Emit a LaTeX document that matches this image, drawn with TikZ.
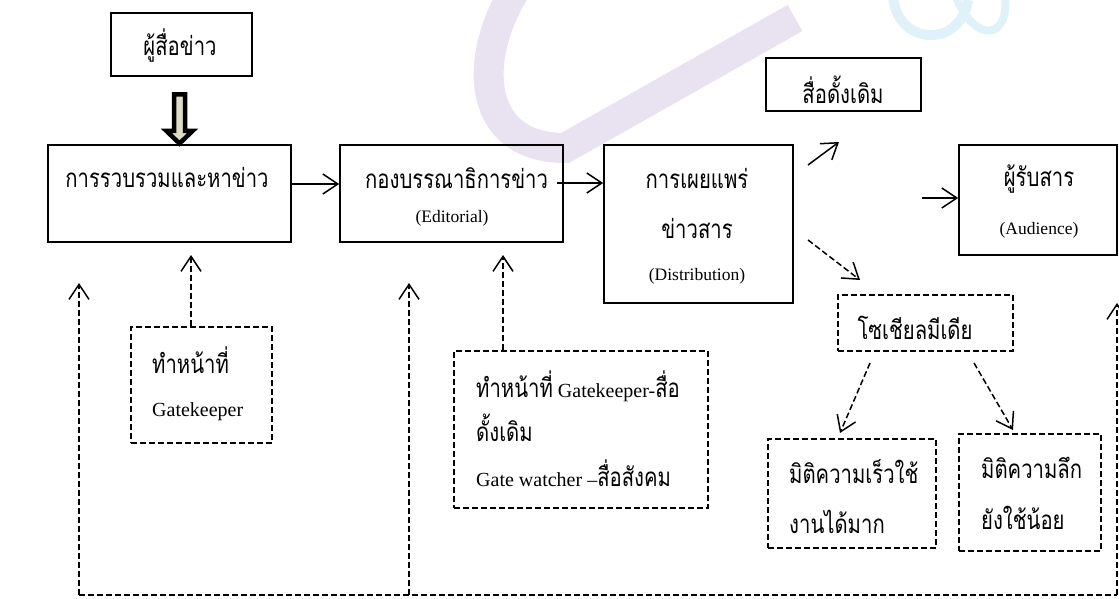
\documentclass[tikz,border=0pt]{standalone}
\usepackage{fontspec}
\setmainfont{Liberation Serif}
\newfontfamily\thaifont[Script=Thai, FakeStretch=0.78]{Loma}
\newcommand{\thx}[1]{{\fontsize{26}{30}\thaifont #1}}
\usetikzlibrary{arrows.meta,fit,calc}
\definecolor{wmpurple}{HTML}{E9E2F1}
\definecolor{wmblue}{HTML}{E0F2F9}
\definecolor{beige}{HTML}{DEDBC6}
\tikzset{
  box/.style={draw, line width=1.7pt, inner sep=0pt},
  dbox/.style={draw, line width=1.5pt, dash pattern=on 6pt off 3pt, inner sep=0pt},
  arr/.style={line width=1.5pt, -{Straight Barb[length=15pt,width=20pt,line width=1.5pt]}},
  darr/.style={line width=1.5pt, dash pattern=on 6pt off 3pt, -{Straight Barb[length=15pt,width=20pt,line width=1.5pt]}},
  dline/.style={line width=1.5pt, dash pattern=on 6pt off 3pt},
  th/.style={inner sep=0pt, font=\fontsize{26}{30}\thaifont},
  en/.style={inner sep=0pt, font=\fontsize{17.5}{21}\selectfont},
  en2/.style={inner sep=0pt, font=\fontsize{20}{24}\selectfont},
}
\begin{document}
\begin{tikzpicture}[x=1pt,y=-1pt]
\useasboundingbox (0,0) rectangle (1119,599);
% watermark
\draw[wmpurple, line width=30pt] (522,-20) .. controls (472,50) and (472,148) .. (565,148) -- (795,18);
\draw[wmblue, line width=10pt] (893,-5) .. controls (895,45) and (960,50) .. (968,0);
\draw[wmblue, line width=8pt] (955,-5) .. controls (975,45) and (1010,40) .. (1005,-5);
% boxes
\node[box, fit={(111,13) (252,76)}] (src) {};
\node[box, fit={(48,145) (291,242)}] (b1) {};
\node[box, fit={(340,145) (563,242)}] (b2) {};
\node[box, fit={(604,145) (793,303)}] (b3) {};
\node[box, fit={(766,58) (921,111)}] (trad) {};
\node[box, fit={(959,145) (1117,255)}] (aud) {};
\node[dbox, fit={(838,295) (1013,351)}] (soc) {};
\node[dbox, fit={(768,439) (936,548)}] (speed) {};
\node[dbox, fit={(959,434) (1101,551)}] (deep) {};
\node[dbox, fit={(131,327) (272,443)}] (gk) {};
\node[dbox, fit={(454,351) (708,508)}] (gk2) {};
% texts
\node[th] (tsrc) at (180,46) {ผู้สื่อข่าว};
\node[th] (tb1) at (167,178) {การรวบรวมและหาข่าว};
\node[th, anchor=west] (tb2) at (365,178) {กองบรรณาธิการข่าว};
\node[en] (tb2e) at (452,218) {(Editorial)};
\node[th] (tb3a) at (697,179) {การเผยแพร่};
\node[th] (tb3b) at (697,229) {ข่าวสาร};
\node[en] (tb3c) at (697,276) {(Distribution)};
\node[th] (ttrad) at (843,90) {สื่อดั้งเดิม};
\node[th] (taud) at (1039,179) {ผู้รับสาร};
\node[en] (taude) at (1039,230) {(Audience)};
\node[th] (tsoc) at (915,328) {โซเชียลมีเดีย};
\node[th, anchor=west] (tsp1) at (789,472) {มิติความเร็วใช้};
\node[th, anchor=west] (tsp2) at (789,522) {งานได้มาก};
\node[th, anchor=west] (tdp1) at (981,468) {มิติความลึก};
\node[th, anchor=west] (tdp2) at (981,518) {ยังใช้น้อย};
\node[th, anchor=west] (tgk1) at (152,360) {ทำหน้าที่};
\node[en2, anchor=west] (tgk2) at (152,412) {Gatekeeper};
\node[en2, anchor=west] (tg1) at (476,386) {\thx{ทำหน้าที่} Gatekeeper-\thx{สื่อ}};
\node[th, anchor=west] (tg2) at (476,428) {ดั้งเดิม};
\node[en2, anchor=west] (tg3) at (476,473) {Gate watcher –\thx{สื่อสังคม}};
% thick arrow
\draw[line width=4.5pt, fill=beige, line join=miter, miter limit=4] (174,94.5) -- (185,94.5) -- (185,131) -- (192.5,131) -- (179.5,143.5) -- (166.5,131) -- (174,131) -- cycle;
% named coordinates
\coordinate (y184) at (0,184);
\coordinate (y183) at (0,183);
\coordinate (y198) at (0,198);
\coordinate (p1) at (808,165);
\coordinate (p2) at (839,142);
\coordinate (p3) at (922,198);
\coordinate (p4) at (808,240);
\coordinate (p5) at (860,280);
\coordinate (s1) at (870,363);
\coordinate (s2) at (840,433);
\coordinate (s3) at (974,363);
\coordinate (s4) at (1013,430);
\coordinate (gktip) at (191,255);
\coordinate (gk2tip) at (503,255);
\coordinate (fA) at (79,595);
\coordinate (fB) at (409,595);
\coordinate (fC) at (1117,595);
\coordinate (fAt) at (79,283);
\coordinate (fBt) at (409,283);
\coordinate (fCt) at (1117,303);
% connectors
\draw[arr] (b1.east |- y184) -- (b2.west |- y184);
\draw[arr] ([xshift=-7pt]b2.east |- y183) -- (b3.west |- y183);
\draw[arr] (p1) -- (p2);
\draw[arr] (p3) -- (aud.west |- y198);
\draw[darr] (p4) -- (p5);
\draw[darr] (s1) -- (s2);
\draw[darr] (s3) -- (s4);
\draw[darr] (gk.north -| gktip) -- (gktip);
\draw[darr] (gk2.north -| gk2tip) -- (gk2tip);
\draw[dline] (fA) -- (fC);
\draw[darr] (fA) -- (fAt);
\draw[darr] (fB) -- (fBt);
\draw[darr] (fC) -- (fCt);
\end{tikzpicture}
\end{document}
